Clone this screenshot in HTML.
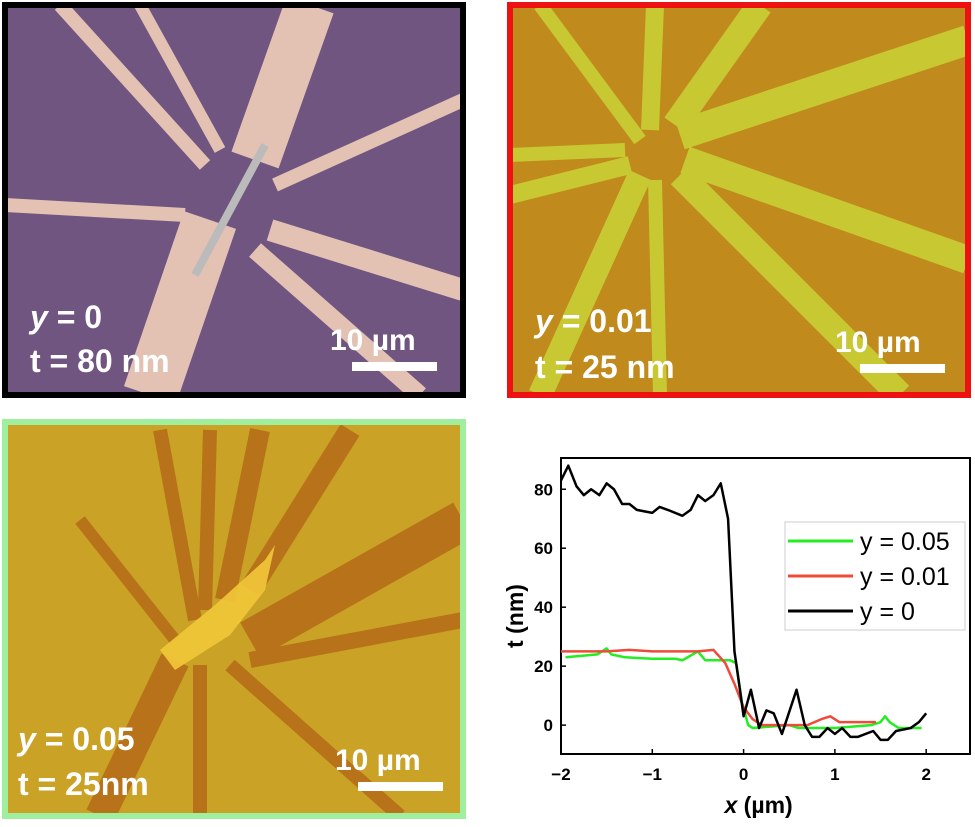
<!DOCTYPE html>
<html><head><meta charset="utf-8"><style>
body{margin:0;background:#fff;width:975px;height:827px;overflow:hidden;font-family:"Liberation Sans",sans-serif}
svg{position:absolute;left:0;top:0}
</style></head><body>
<svg width="975" height="827">
<defs>
<clipPath id="ca"><rect x="5" y="5" width="458" height="390"/></clipPath>
<clipPath id="cb"><rect x="510" y="5" width="458" height="390"/></clipPath>
<clipPath id="cc"><rect x="5" y="422" width="458" height="394"/></clipPath>
</defs>
<g clip-path="url(#ca)">
<rect x="5" y="5" width="458" height="390" fill="#6f5580"/>
<g stroke="#e3c1b3" stroke-linecap="butt" fill="none">
<line x1="310" y1="5" x2="255" y2="160" stroke-width="50"/>
<line x1="210" y1="220" x2="150" y2="395" stroke-width="55"/>
<line x1="60" y1="5" x2="205" y2="165" stroke-width="14"/>
<line x1="140" y1="5" x2="220" y2="150" stroke-width="12"/>
<line x1="463" y1="100" x2="275" y2="185" stroke-width="14"/>
<line x1="5" y1="205" x2="185" y2="215" stroke-width="14"/>
<line x1="463" y1="290" x2="270" y2="230" stroke-width="22"/>
<line x1="420" y1="395" x2="255" y2="250" stroke-width="18"/>
</g>
<line x1="265" y1="145" x2="195" y2="275" stroke="#bbb" stroke-width="8"/>
<text x="30" y="328" fill="#fff" font-size="32" font-weight="bold"><tspan font-style="italic">y</tspan> = 0</text>
<text x="30" y="372" fill="#fff" font-size="32" font-weight="bold">t = 80 nm</text>
<text x="330" y="350" fill="#fff" font-size="30" font-weight="bold">10 µm</text>
<rect x="352" y="362" width="85" height="9" fill="#fff"/>
</g>
<rect x="5" y="5" width="458" height="390" fill="none" stroke="#000" stroke-width="6"/>
<g clip-path="url(#cb)">
<rect x="510" y="5" width="458" height="390" fill="#c08a1c"/>
<g stroke="#c8c832" fill="none">
<line x1="655" y1="5" x2="650" y2="130" stroke-width="18"/>
<line x1="540" y1="5" x2="640" y2="140" stroke-width="14"/>
<line x1="760" y1="5" x2="675" y2="125" stroke-width="26"/>
<line x1="968" y1="40" x2="680" y2="135" stroke-width="30"/>
<line x1="510" y1="155" x2="625" y2="150" stroke-width="14"/>
<line x1="510" y1="195" x2="630" y2="165" stroke-width="18"/>
<line x1="968" y1="260" x2="685" y2="160" stroke-width="28"/>
<line x1="540" y1="395" x2="640" y2="175" stroke-width="24"/>
<line x1="660" y1="395" x2="655" y2="180" stroke-width="14"/>
<line x1="900" y1="395" x2="680" y2="175" stroke-width="26"/>
</g>
<text x="535" y="332" fill="#fff" font-size="32" font-weight="bold"><tspan font-style="italic">y</tspan> = 0.01</text>
<text x="535" y="378" fill="#fff" font-size="32" font-weight="bold">t = 25 nm</text>
<text x="835" y="352" fill="#fff" font-size="30" font-weight="bold">10 µm</text>
<rect x="860" y="364" width="85" height="9" fill="#fff"/>
</g>
<rect x="510" y="5" width="458" height="390" fill="none" stroke="#ee1111" stroke-width="6"/>
<g clip-path="url(#cc)">
<rect x="5" y="422" width="458" height="394" fill="#c9a226"/>
<g stroke="#b8721a" fill="none">
<line x1="160" y1="430" x2="195" y2="620" stroke-width="14"/>
<line x1="210" y1="430" x2="205" y2="610" stroke-width="14"/>
<line x1="260" y1="430" x2="225" y2="600" stroke-width="20"/>
<line x1="350" y1="430" x2="250" y2="590" stroke-width="22"/>
<line x1="463" y1="520" x2="250" y2="640" stroke-width="40"/>
<line x1="80" y1="520" x2="175" y2="640" stroke-width="12"/>
<line x1="463" y1="620" x2="250" y2="660" stroke-width="16"/>
<line x1="100" y1="816" x2="175" y2="660" stroke-width="30"/>
<line x1="200" y1="816" x2="200" y2="665" stroke-width="14"/>
<line x1="400" y1="816" x2="230" y2="665" stroke-width="14"/>
</g>
<polygon points="160,650 215,605 265,560 275,545 265,590 230,635 175,670" fill="#f2c83a" opacity="0.9"/>
<text x="18" y="750" fill="#fff" font-size="32" font-weight="bold"><tspan font-style="italic">y</tspan> = 0.05</text>
<text x="18" y="795" fill="#fff" font-size="32" font-weight="bold">t = 25nm</text>
<text x="335" y="770" fill="#fff" font-size="30" font-weight="bold">10 µm</text>
<rect x="358" y="782" width="85" height="9" fill="#fff"/>
</g>
<rect x="5" y="422" width="458" height="394" fill="none" stroke="#9fef9f" stroke-width="6"/>
<g id="chart"></g>
</svg>
<script>
const blackX=[-2,-1.92,-1.83,-1.75,-1.67,-1.58,-1.5,-1.42,-1.33,-1.25,-1.17,-1.0,-0.92,-0.83,-0.67,-0.58,-0.5,-0.42,-0.33,-0.25,-0.17,-0.1,-0.04,0,0.08,0.17,0.25,0.33,0.42,0.58,0.67,0.75,0.83,0.92,1.0,1.08,1.17,1.25,1.42,1.5,1.58,1.67,1.83,1.92,2.0];
const blackY=[83,88,81,78,80,78,82,80,75,75,73,72,74,73,71,73,78,76,78,82,70,25,12,3,12,-1,5,4,-3,12,0,-4,-4,-1,-3,-1,-4,-4,-2,-5,-5,-2,-1,1,4];
const redX=[-2,-1.5,-1.25,-1,-0.5,-0.33,-0.2,-0.1,0,0.1,0.2,0.5,0.7,0.85,0.95,1.05,1.45];
const redY=[25,25,25.5,25,25,25.5,21,14,6,2,0,0,0,2,3,1,1];
const greenX=[-1.95,-1.6,-1.5,-1.45,-1.3,-1.0,-0.75,-0.67,-0.5,-0.42,-0.15,-0.08,-0.02,0.05,0.1,0.5,0.6,1.0,1.4,1.5,1.55,1.6,1.7,1.95];
const greenY=[23,24,26,24,23,22.5,22.5,22,25,22,22,21,8,0,-1,0,-1,-1,0,1,3,1,-1,-1];
const xTicks=[-2,-1,0,1,2];
const yTicks=[0,20,40,60,80];
const L=561,R=970,T=458,B=754,xMin=-2,xMax=2.48,yMin=-9.8,yMax=90.6;
const sx=v=>L+(v-xMin)/(xMax-xMin)*(R-L);
const sy=v=>B-(v-yMin)/(yMax-yMin)*(B-T);
const NS='http://www.w3.org/2000/svg';
const g=document.getElementById('chart');
function mk(t,a,p){const e=document.createElementNS(NS,t);for(const k in a)e.setAttribute(k,a[k]);(p||g).appendChild(e);return e;}
const frame=mk('rect',{x:L,y:T,width:R-L,height:B-T,fill:'#fff',stroke:'#000','stroke-width':2});


xTicks.forEach(v=>{
 mk('line',{x1:sx(v),x2:sx(v),y1:B,y2:B-5,stroke:'#000','stroke-width':1.5});
 const t=mk('text',{x:sx(v),y:B+26,'text-anchor':'middle','font-size':17,'font-weight':'bold'});
 t.textContent=v<0?'−'+(-v):String(v);
 
 
});
yTicks.forEach(v=>{
 mk('line',{x1:L,x2:L+5,y1:sy(v),y2:sy(v),stroke:'#000','stroke-width':1.5});
 const t=mk('text',{x:L-8,y:sy(v)+6,'text-anchor':'end','font-size':17,'font-weight':'bold'});
 t.textContent=String(v);
 
 
});
const xt=mk('text',{x:(sx(-2)+sx(2))/2+15,y:813,'text-anchor':'middle','font-size':23,'font-weight':'bold'});
xt.innerHTML='<tspan font-style="italic">x</tspan> (µm)';


const yt=mk('text',{x:0,y:0,'text-anchor':'middle','font-size':23,'font-weight':'bold',transform:`translate(523,${(T+B)/2+10}) rotate(-90)`});
yt.textContent='t (nm)';


function line(xs,ys,c,name){
 const p=mk('polyline',{points:xs.map((x,i)=>sx(x)+','+sy(ys[i])).join(' '),fill:'none',stroke:c,'stroke-width':2.5,'stroke-linejoin':'round'});
 
 
}
line(greenX,greenY,'#22ee22','series-y-0.05');
line(redX,redY,'#f04a3a','series-y-0.01');
line(blackX,blackY,'#000','series-y-0');
const lg=mk('rect',{x:785,y:522,width:180,height:108,fill:'#fff',stroke:'#ccc','stroke-width':1});


[['y = 0.05','#22ee22',541],['y = 0.01','#f04a3a',576],['y = 0','#000',611]].forEach(([s,c,y])=>{
 mk('line',{x1:788,x2:853,y1:y,y2:y,stroke:c,'stroke-width':3});
 const t=mk('text',{x:860,y:y+9,'font-size':25});
 t.textContent=s;
 
 
});
</script>
</body></html>
